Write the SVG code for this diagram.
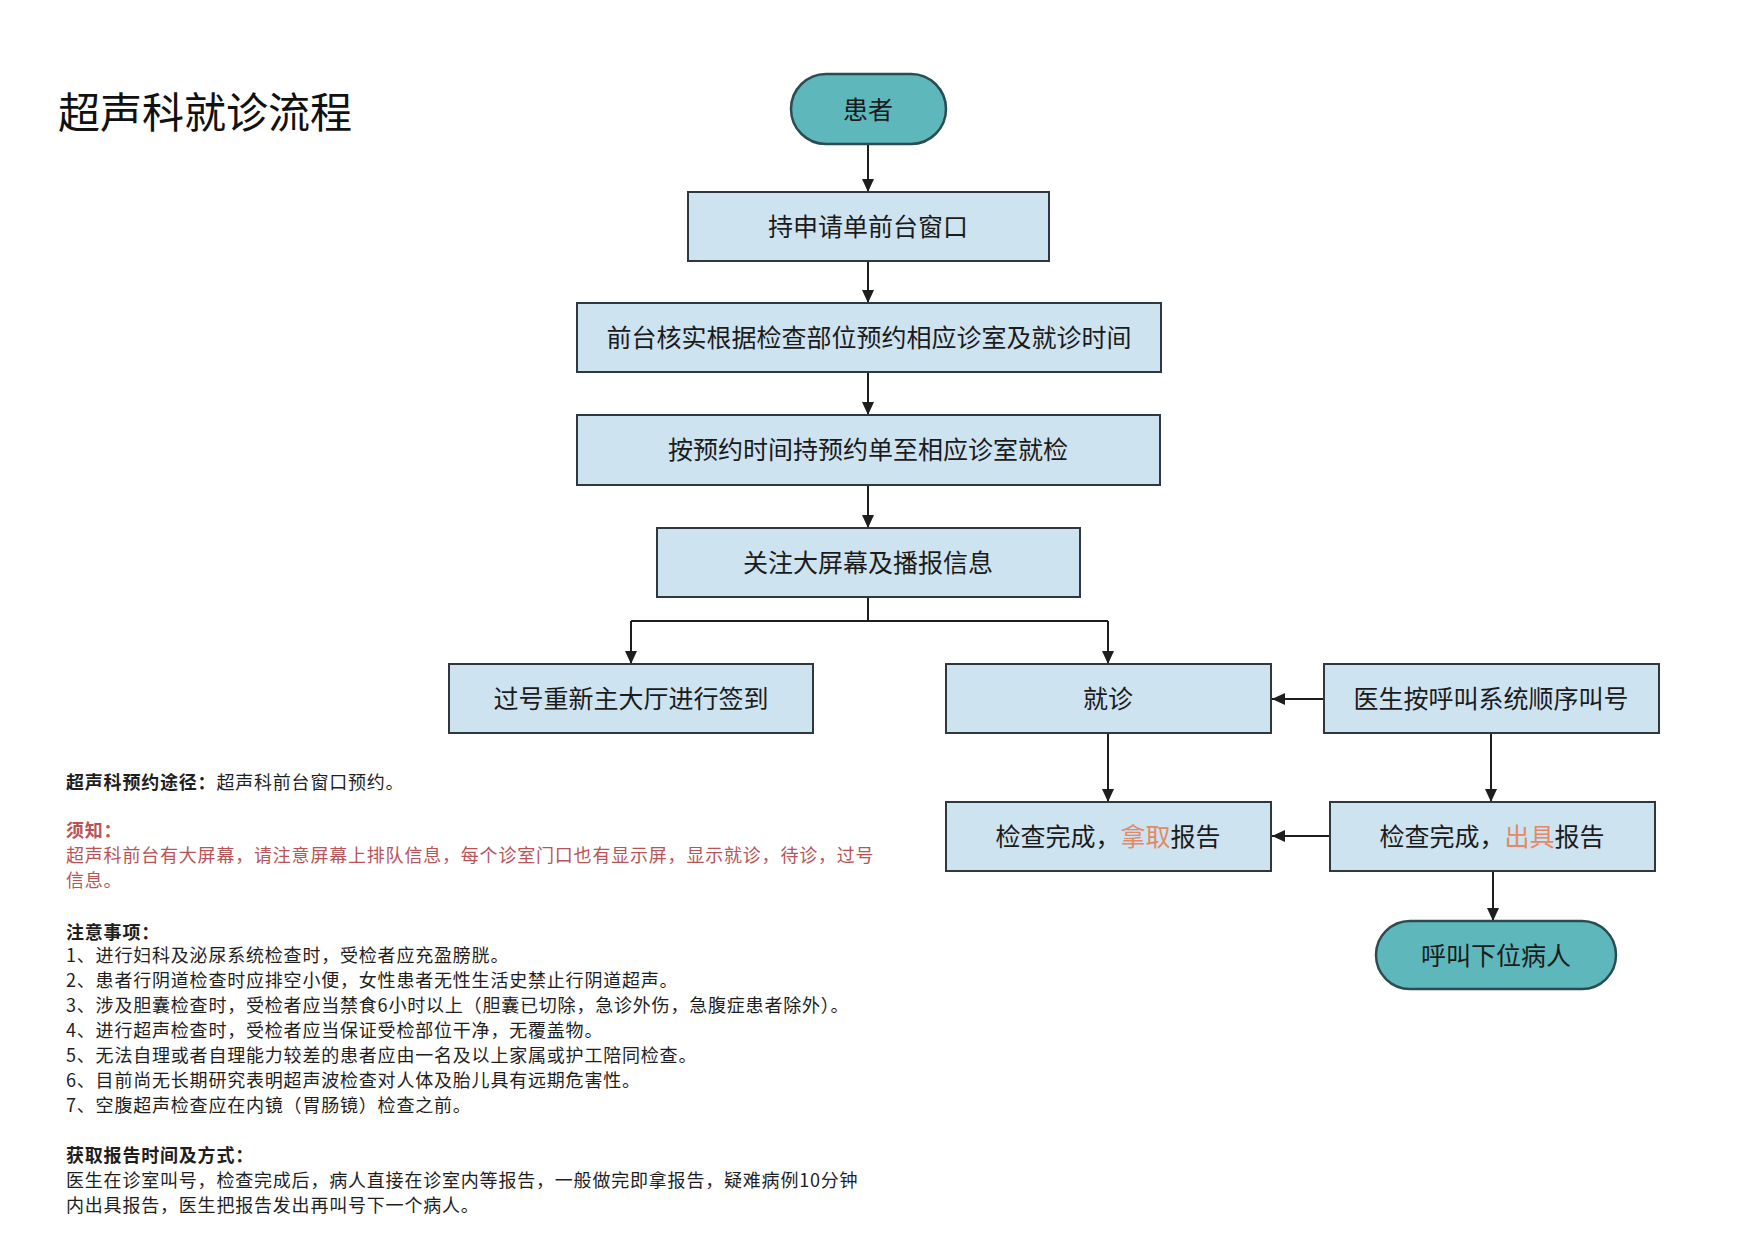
<svg xmlns="http://www.w3.org/2000/svg" width="1755" height="1240" viewBox="0 0 1755 1240">
<defs>
<style>
text{font-family:"Noto Sans CJK SC","Noto Sans",sans-serif;}
.box{fill:#cee3f0;stroke:#30383e;stroke-width:2;}
.term{fill:#5db7bb;stroke:#2b4c52;stroke-width:2.5;}
.nt{font-size:25px;fill:#1b1b1b;text-anchor:middle;}
.hl{fill:#e08a68;}
.conn{stroke:#1e1e1e;stroke-width:2;fill:none;}
.body{font-size:18px;fill:#1e1e1e;letter-spacing:0.8px;}
.b{font-weight:bold;}
.red{fill:#b85457;}
</style>
<marker id="ah" markerUnits="userSpaceOnUse" markerWidth="14" markerHeight="12" refX="13" refY="6" orient="auto">
<path d="M0,0 L13,6 L0,12 Z" fill="#1e1e1e"/>
</marker>
</defs>
<rect width="1755" height="1240" fill="#ffffff"/>
<text x="58" y="128" font-size="42" fill="#111">超声科就诊流程</text>

<g id="connectors">
<line class="conn" x1="868" y1="144" x2="868" y2="192" marker-end="url(#ah)"/>
<line class="conn" x1="868" y1="261" x2="868" y2="303" marker-end="url(#ah)"/>
<line class="conn" x1="868" y1="372" x2="868" y2="415" marker-end="url(#ah)"/>
<line class="conn" x1="868" y1="485" x2="868" y2="528" marker-end="url(#ah)"/>
<path class="conn" d="M868,597 V621 M631,621 H1108"/>
<line class="conn" x1="631" y1="621" x2="631" y2="664" marker-end="url(#ah)"/>
<line class="conn" x1="1108" y1="621" x2="1108" y2="664" marker-end="url(#ah)"/>
<line class="conn" x1="1324" y1="699" x2="1272" y2="699" marker-end="url(#ah)"/>
<line class="conn" x1="1108" y1="733" x2="1108" y2="802" marker-end="url(#ah)"/>
<line class="conn" x1="1491" y1="733" x2="1491" y2="802" marker-end="url(#ah)"/>
<line class="conn" x1="1330" y1="836" x2="1272" y2="836" marker-end="url(#ah)"/>
<line class="conn" x1="1493" y1="871" x2="1493" y2="921" marker-end="url(#ah)"/>
</g>

<g id="n-patient"><rect class="term" x="791" y="74" width="155" height="70" rx="35" ry="35"/><text class="nt" x="868" y="119">患者</text></g>
<g id="n-window"><rect class="box" x="688" y="192" width="361" height="69"/><text class="nt" x="868" y="236">持申请单前台窗口</text></g>
<g id="n-verify"><rect class="box" x="577" y="303" width="584" height="69"/><text class="nt" x="869" y="347">前台核实根据检查部位预约相应诊室及就诊时间</text></g>
<g id="n-goto"><rect class="box" x="577" y="415" width="583" height="70"/><text class="nt" x="868" y="459">按预约时间持预约单至相应诊室就检</text></g>
<g id="n-screen"><rect class="box" x="657" y="528" width="423" height="69"/><text class="nt" x="868" y="572">关注大屏幕及播报信息</text></g>
<g id="n-missed"><rect class="box" x="449" y="664" width="364" height="69"/><text class="nt" x="631" y="708">过号重新主大厅进行签到</text></g>
<g id="n-visit"><rect class="box" x="946" y="664" width="325" height="69"/><text class="nt" x="1108" y="708">就诊</text></g>
<g id="n-call"><rect class="box" x="1324" y="664" width="335" height="69"/><text class="nt" x="1491" y="708">医生按呼叫系统顺序叫号</text></g>
<g id="n-take"><rect class="box" x="946" y="802" width="325" height="69"/><text class="nt" x="1108" y="846">检查完成，<tspan class="hl">拿取</tspan>报告</text></g>
<g id="n-issue"><rect class="box" x="1330" y="802" width="325" height="69"/><text class="nt" x="1492" y="846">检查完成，<tspan class="hl">出具</tspan>报告</text></g>
<g id="n-next"><rect class="term" x="1376" y="921" width="240" height="68" rx="34" ry="34"/><text class="nt" x="1496" y="965" font-size="27">呼叫下位病人</text></g>

<g id="notes" class="body">
<text x="66" y="789"><tspan class="b">超声科预约途径：</tspan>超声科前台窗口预约。</text>
<text x="66" y="837" class="red b">须知：</text>
<text x="66" y="862" class="red">超声科前台有大屏幕，请注意屏幕上排队信息，每个诊室门口也有显示屏，显示就诊，待诊，过号</text>
<text x="66" y="887" class="red">信息。</text>
<text x="66" y="939" class="b">注意事项：</text>
<text x="66" y="962">1、进行妇科及泌尿系统检查时，受检者应充盈膀胱。</text>
<text x="66" y="987">2、患者行阴道检查时应排空小便，女性患者无性生活史禁止行阴道超声。</text>
<text x="66" y="1012">3、涉及胆囊检查时，受检者应当禁食6小时以上（胆囊已切除，急诊外伤，急腹症患者除外）。</text>
<text x="66" y="1037">4、进行超声检查时，受检者应当保证受检部位干净，无覆盖物。</text>
<text x="66" y="1062">5、无法自理或者自理能力较差的患者应由一名及以上家属或护工陪同检查。</text>
<text x="66" y="1087">6、目前尚无长期研究表明超声波检查对人体及胎儿具有远期危害性。</text>
<text x="66" y="1112">7、空腹超声检查应在内镜（胃肠镜）检查之前。</text>
<text x="66" y="1162" class="b">获取报告时间及方式：</text>
<text x="66" y="1187">医生在诊室叫号，检查完成后，病人直接在诊室内等报告，一般做完即拿报告，疑难病例10分钟</text>
<text x="66" y="1212">内出具报告，医生把报告发出再叫号下一个病人。</text>
</g>
</svg>
